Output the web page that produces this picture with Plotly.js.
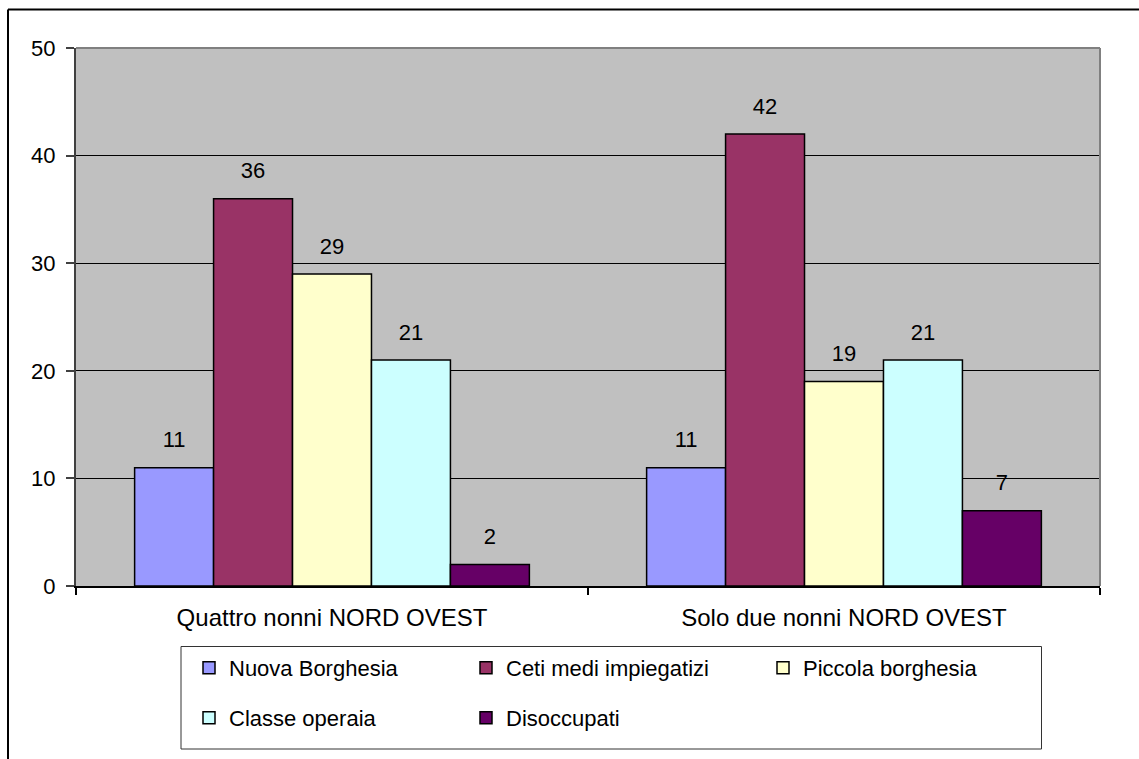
<!DOCTYPE html>
<html>
<head>
<meta charset="utf-8">
<script src="https://cdn.plot.ly/plotly-3.0.1.min.js"></script>
<style>html,body{margin:0;padding:0;background:#fff;}#chart{width:1139px;height:759px;}</style>
</head>
<body>
<div id="chart"></div>
<script>
// ---- data ----
const categories = ['Quattro nonni NORD OVEST', 'Solo due nonni NORD OVEST'];
const seriesNames = ['Nuova Borghesia', 'Ceti medi impiegatizi', 'Piccola borghesia', 'Classe operaia', 'Disoccupati'];
const nuovaBorghesia = [11, 11];
const cetiMedi = [36, 42];
const piccolaBorghesia = [29, 19];
const classeOperaia = [21, 21];
const disoccupati = [2, 7];
const yTicks = [0, 10, 20, 30, 40, 50];

const seriesValues = [nuovaBorghesia, cetiMedi, piccolaBorghesia, classeOperaia, disoccupati];
const colors = ['#9999FF', '#993366', '#FFFFCC', '#CCFFFF', '#660066'];
const legendIds = ['legend', 'legend', 'legend', 'legend2', 'legend2'];
const legendWidths = [232, 252, 232, 232, 232];
const FONT = 'Liberation Sans, Arial, sans-serif';

// plot area in pixels (for converting decoration positions)
const L = 76, R = 1100, T = 48, B = 586;
const px = v => (v - L) / (R - L);
const py = v => (B - v) / (B - T);

const traces = [];
seriesValues.forEach((vals, i) => {
  traces.push({
    type: 'bar', name: seriesNames[i], x: categories, y: vals,
    marker: {color: colors[i], line: {color: '#000', width: 1.5}},
    legend: legendIds[i], legendwidth: legendWidths[i], hoverinfo: 'y+name'
  });
});
seriesValues.forEach((vals, i) => {
  traces.push({
    type: 'scatter', mode: 'markers+text', x: categories, y: vals,
    text: vals.map(String), textposition: 'top center',
    textfont: {family: FONT, size: 22, color: '#000'},
    marker: {size: 22, opacity: 0}, showlegend: false, hoverinfo: 'skip',
    cliponaxis: false
  });
});

const legendCommon = {
  orientation: 'h', xanchor: 'left', yanchor: 'top',
  x: px(189), entrywidthmode: 'pixels',
  font: {family: FONT, size: 22, color: '#000'},
  bgcolor: 'rgba(0,0,0,0)', borderwidth: 0
};

const layout = {
  width: 1139, height: 759,
  margin: {l: L, r: 1139 - R, t: T, b: 759 - B},
  paper_bgcolor: '#fff', plot_bgcolor: '#C0C0C0',
  font: {family: FONT, color: '#000'},
  barmode: 'group', bargap: 0.229, bargroupgap: 0,
  scattermode: 'group', scattergap: 0.229,
  showlegend: true,
  legend: Object.assign({}, legendCommon, {y: py(647)}),
  legend2: Object.assign({}, legendCommon, {y: py(697)}),
  xaxis: {
    type: 'category', showline: true, linecolor: '#000', linewidth: 1.5,
    ticks: 'outside', tickson: 'boundaries', ticklen: 7, tickcolor: '#000', tickwidth: 1.5,
    tickfont: {family: FONT, size: 24, color: '#000'}, ticklabelstandoff: 9,
    showgrid: false, zeroline: false
  },
  yaxis: {
    range: [0, 50], tickvals: yTicks, ticktext: yTicks.map(String),
    showline: true, linecolor: '#404040', linewidth: 2,
    ticks: 'outside', ticklen: 8, tickcolor: '#404040', tickwidth: 1.5,
    tickfont: {family: FONT, size: 22, color: '#000'}, ticklabelstandoff: 6,
    showgrid: true, gridcolor: '#000', gridwidth: 1, zeroline: false
  },
  shapes: [
    // plot-area frame (top and right)
    {type: 'line', xref: 'paper', yref: 'paper', x0: 0, x1: 1, y0: 1, y1: 1, line: {color: '#808080', width: 2}},
    {type: 'line', xref: 'paper', yref: 'paper', x0: 1, x1: 1, y0: 0, y1: 1, line: {color: '#808080', width: 2}},
    // legend box
    {type: 'rect', xref: 'paper', yref: 'paper', x0: px(181), x1: px(1041.5), y0: py(749), y1: py(646.5), line: {color: '#333', width: 1}},
    // outer chart border (top and left)
    {type: 'line', xref: 'paper', yref: 'paper', x0: px(8), x1: px(1200), y0: py(9.5), y1: py(9.5), line: {color: '#000', width: 2}},
    {type: 'line', xref: 'paper', yref: 'paper', x0: px(8), x1: px(8), y0: py(9.5), y1: py(800), line: {color: '#000', width: 2}}
  ]
};

Plotly.newPlot('chart', traces, layout, {displayModeBar: false, responsive: false});
</script>
</body>
</html>
